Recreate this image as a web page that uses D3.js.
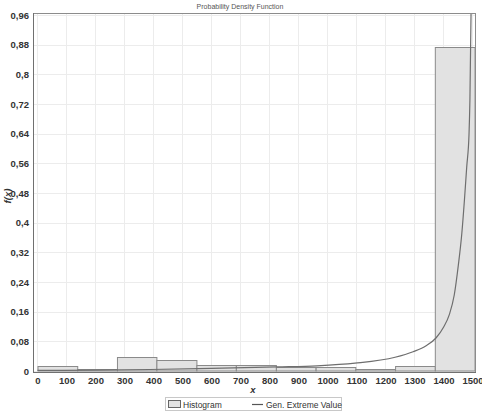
<!DOCTYPE html>
<html><head><meta charset="utf-8">
<script src="https://cdn.jsdelivr.net/npm/d3@7"></script>
<style>body{margin:0;background:#fff;} svg{display:block;}</style>
</head><body>
<script>
const binEdges = [0, 137, 274, 410, 548, 684, 822, 959, 1096, 1233, 1370, 1507];
const binDensity = [0.0143, 0.006, 0.0385, 0.0296, 0.017, 0.017, 0.0116, 0.010, 0.0045, 0.0134, 0.875];
const curveX = [0, 200, 388, 600, 826, 964, 1095, 1233, 1295, 1340, 1374, 1400, 1420, 1437, 1451, 1463, 1472, 1480, 1488, 1491, 1495, 1498];
const curveY = [0.0015, 0.0025, 0.004, 0.007, 0.011, 0.014, 0.021, 0.037, 0.052, 0.068, 0.089, 0.118, 0.152, 0.205, 0.285, 0.37, 0.46, 0.55, 0.64, 0.73, 0.97, 1.2];
const xTicks = [0,100,200,300,400,500,600,700,800,900,1000,1100,1200,1300,1400,1500];
const yTicks = [0,0.08,0.16,0.24,0.32,0.4,0.48,0.56,0.64,0.72,0.8,0.88,0.96];

const W = 482, H = 412;
const L = 33, R = 476, T = 13, B = 372;
const svg = d3.select("body").append("svg").attr("width", W).attr("height", H);

const x = d3.scaleLinear().domain([-15.5, 1512]).range([L, R]);
const y = d3.scaleLinear().domain([-0.0027, 0.9655]).range([B, T]);

const fmt = d => d === 0 ? "0" : String(+d.toFixed(2)).replace(".", ",");

// grid
const g = svg.append("g");
g.selectAll(".vg").data(xTicks).enter().append("line")
  .attr("x1", d => x(d)).attr("x2", d => x(d)).attr("y1", T).attr("y2", B)
  .attr("stroke", "#ececec").attr("stroke-width", 1);
g.selectAll(".hg").data(yTicks).enter().append("line")
  .attr("y1", d => Math.round(y(d)) + 0.5).attr("y2", d => Math.round(y(d)) + 0.5).attr("x1", L).attr("x2", R)
  .attr("stroke", "#ececec").attr("stroke-width", 1);

// clip
svg.append("clipPath").attr("id", "clip").append("rect")
  .attr("x", L).attr("y", T).attr("width", R - L).attr("height", B - T);

// bars
const bins = binDensity.map((v, i) => ({x0: binEdges[i], x1: binEdges[i + 1], v}));
svg.append("g").selectAll("rect").data(bins).enter().append("rect")
  .attr("x", d => x(d.x0) + 0.5)
  .attr("width", d => x(d.x1) - x(d.x0))
  .attr("y", d => Math.round(y(d.v)) + 0.5)
  .attr("height", d => y(0) - Math.round(y(d.v)) - 0.5)
  .attr("fill", "#e2e2e2").attr("stroke", "#8a8a8a").attr("stroke-width", 1);

// curve
const pts = curveX.map((v, i) => [v, curveY[i]]);
svg.append("path").datum(pts)
  .attr("clip-path", "url(#clip)")
  .attr("d", d3.line().x(d => x(d[0])).y(d => y(d[1])).curve(d3.curveMonotoneX))
  .attr("fill", "none").attr("stroke", "#6e6e6e").attr("stroke-width", 1.2);

// frame
svg.append("rect").attr("x", L + 0.5).attr("y", T + 0.5).attr("width", R - L - 1).attr("height", B - T)
  .attr("fill", "none").attr("stroke", "#8c8c8c").attr("stroke-width", 1);
svg.append("line").attr("x1", L + 0.5).attr("x2", L + 0.5).attr("y1", T).attr("y2", B + 1)
  .attr("stroke", "#707070");
svg.append("line").attr("x1", L).attr("x2", R).attr("y1", B + 0.5).attr("y2", B + 0.5)
  .attr("stroke", "#707070");

// axes labels via d3 axes
const xAxis = d3.axisBottom(x).tickValues(xTicks).tickSize(0).tickPadding(4).tickFormat(d => d);
const xa = svg.append("g").attr("transform", `translate(0,${B + 1})`).call(xAxis);
xa.select(".domain").remove();
xa.selectAll("text").attr("font-family", "Liberation Sans, Arial, sans-serif")
  .attr("font-size", 9.5).attr("font-weight", "bold").attr("fill", "#333");

const yAxis = d3.axisLeft(y).tickValues(yTicks).tickSize(0).tickPadding(4).tickFormat(fmt);
const ya = svg.append("g").attr("transform", `translate(${L},0)`).call(yAxis);
ya.select(".domain").remove();
ya.selectAll("text").attr("font-family", "Liberation Sans, Arial, sans-serif")
  .attr("font-size", 9.5).attr("font-weight", "bold").attr("fill", "#333");

// titles
svg.append("text").attr("x", 240).attr("y", 9).attr("text-anchor", "middle")
  .attr("font-family", "Liberation Sans, Arial, sans-serif").attr("font-size", 7)
  .attr("fill", "#555").text("Probability Density Function");
svg.append("text").attr("x", 253).attr("y", 393).attr("text-anchor", "middle")
  .attr("font-family", "Liberation Sans, Arial, sans-serif").attr("font-size", 9.5)
  .attr("font-weight", "bold").attr("font-style", "italic").attr("fill", "#333").text("x");
svg.append("text").attr("transform", "translate(11,196) rotate(-90)").attr("text-anchor", "middle")
  .attr("font-family", "Liberation Sans, Arial, sans-serif").attr("font-size", 9.5)
  .attr("font-weight", "bold").attr("font-style", "italic").attr("fill", "#333").text("f(x)");

// legend
const lg = svg.append("g");
lg.append("rect").attr("x", 165.5).attr("y", 397.5).attr("width", 176).attr("height", 13)
  .attr("fill", "#fff").attr("stroke", "#c8c8c8");
lg.append("rect").attr("x", 168.5).attr("y", 400.5).attr("width", 12).attr("height", 7)
  .attr("fill", "#e2e2e2").attr("stroke", "#666");
lg.append("text").attr("x", 183).attr("y", 407.5).attr("font-family", "Liberation Sans, Arial, sans-serif")
  .attr("font-size", 8.5).attr("fill", "#333").text("Histogram");
lg.append("line").attr("x1", 252).attr("x2", 263).attr("y1", 404.5).attr("y2", 404.5)
  .attr("stroke", "#555").attr("stroke-width", 1.2);
lg.append("text").attr("x", 266).attr("y", 407.5).attr("font-family", "Liberation Sans, Arial, sans-serif")
  .attr("font-size", 8.5).attr("fill", "#333").text("Gen. Extreme Value");
</script>
</body></html>
